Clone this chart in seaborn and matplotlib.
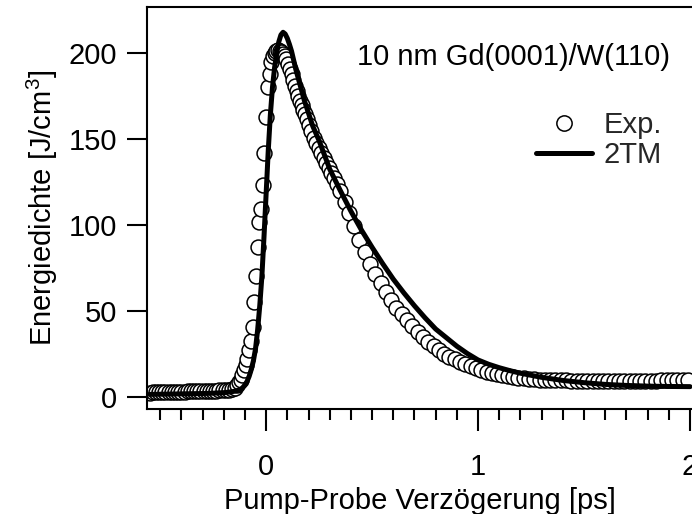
import matplotlib
matplotlib.use("Agg")
import matplotlib.pyplot as plt
from matplotlib.ticker import MultipleLocator, FixedLocator
from matplotlib.lines import Line2D
import numpy as np
import pandas as pd
import seaborn as sns

# ---------------- data ----------------
exp_t = [-0.550, -0.535, -0.520, -0.505, -0.490, -0.475, -0.460, -0.445, -0.430, -0.415,
         -0.400, -0.385, -0.370, -0.355, -0.340, -0.325, -0.310, -0.295, -0.280, -0.265,
         -0.250, -0.235, -0.220, -0.205, -0.190, -0.175, -0.160, -0.145,
         -0.136, -0.128, -0.120, -0.112, -0.104, -0.096, -0.088, -0.080, -0.072, -0.064,
         -0.056, -0.048, -0.040, -0.032, -0.024, -0.016, -0.008, 0.000, 0.008, 0.016,
         0.024, 0.032, 0.040, 0.048, 0.056, 0.064, 0.072, 0.080, 0.088, 0.096,
         0.104, 0.112, 0.120, 0.128, 0.136, 0.144, 0.152, 0.160, 0.168, 0.176,
         0.184, 0.192, 0.200, 0.212, 0.224, 0.236, 0.248, 0.260, 0.272, 0.284,
         0.296, 0.308, 0.320, 0.334, 0.350, 0.370, 0.390, 0.415, 0.440, 0.465,
         0.490, 0.515, 0.540, 0.565, 0.590, 0.615, 0.640, 0.665, 0.690, 0.715,
         0.740, 0.765, 0.790, 0.815, 0.840, 0.865, 0.890, 0.915, 0.940, 0.965,
         0.990, 1.015, 1.040, 1.065, 1.090, 1.115, 1.140, 1.165, 1.190, 1.215,
         1.240, 1.265, 1.290, 1.315, 1.340, 1.365, 1.390, 1.415, 1.440, 1.465,
         1.490, 1.515, 1.540, 1.565, 1.590, 1.615, 1.640, 1.665, 1.690, 1.715,
         1.740, 1.765, 1.790, 1.815, 1.840, 1.865, 1.890, 1.915, 1.940, 1.965, 1.990]
exp_e = [2.5, 2.6, 2.7, 2.6, 2.8, 2.8, 2.9, 2.9, 3.0, 3.0,
         3.1, 3.0, 3.2, 3.2, 3.3, 3.3, 3.4, 3.4, 3.5, 3.6,
         3.6, 3.7, 3.8, 3.9, 4.0, 4.2, 4.6, 5.4,
         7.0, 8.5, 10.0, 12.5, 15.5, 18.5, 22.0, 27.5, 32.5, 40.5,
         55.0, 70.5, 87.0, 102.0, 109.0, 123.0, 142.0, 163.0, 180.0, 187.5,
         195.0, 198.5, 200.0, 201.0, 201.5, 201.0, 200.5, 199.5, 198.5, 196.5,
         193.5, 190.5, 187.5, 184.5, 181.0, 178.0, 175.0, 172.0, 169.5, 167.0,
         164.5, 161.5, 158.0, 154.5, 150.5, 147.5, 145.0, 142.0, 139.0, 136.0,
         133.0, 130.0, 127.0, 124.0, 120.0, 113.5, 107.0, 99.5, 91.0, 84.0,
         77.5, 71.5, 66.0, 61.0, 56.5, 52.0, 48.0, 44.5, 41.0, 37.8,
         35.0, 32.2, 29.6, 27.2, 25.2, 23.5, 22.0, 20.5, 19.2, 18.0,
         16.8, 15.8, 14.8, 14.0, 13.2, 12.5, 12.0, 11.5, 11.1, 10.8,
         10.5, 10.3, 10.1, 10.0, 9.9, 9.8, 9.7, 9.6, 9.5, 9.4,
         9.4, 9.3, 9.3, 9.3, 9.3, 9.3, 9.3, 9.3, 9.3, 9.4,
         9.4, 9.4, 9.5, 9.5, 9.5, 9.6, 9.6, 9.7, 9.8, 9.8, 9.9]

fit_t = [-0.55, -0.50, -0.45, -0.40, -0.35, -0.30, -0.25, -0.20, -0.17, -0.15,
         -0.13, -0.12, -0.11, -0.10, -0.09, -0.08, -0.07, -0.06, -0.05, -0.04,
         -0.03, -0.02, -0.01, 0.00, 0.01, 0.02, 0.03, 0.04, 0.05, 0.06,
         0.07, 0.08, 0.09, 0.10, 0.11, 0.12, 0.14, 0.16, 0.18, 0.20,
         0.22, 0.25, 0.30, 0.35, 0.40, 0.45, 0.50, 0.55, 0.60, 0.65,
         0.70, 0.75, 0.80, 0.85, 0.90, 0.95, 1.00, 1.05, 1.10, 1.15,
         1.20, 1.30, 1.40, 1.50, 1.60, 1.70, 1.80, 1.90, 2.00]
fit_e = [1.5, 1.6, 1.7, 1.8, 1.9, 2.0, 2.2, 2.5, 2.9, 3.3,
         3.9, 4.5, 5.5, 7.0, 9.0, 12.0, 16.0, 21.0, 28.0, 39.0,
         53.0, 70.0, 93.0, 118.0, 143.0, 164.0, 180.0, 191.5, 200.0, 206.5,
         210.5, 212.0, 211.0, 208.5, 205.0, 201.0, 190.5, 181.5, 172.5, 165.0,
         157.5, 149.0, 132.5, 120.0, 108.0, 97.0, 87.0, 77.5, 68.5, 60.5,
         53.0, 46.0, 39.5, 34.5, 29.5, 25.2, 21.5, 19.0, 17.0, 15.3,
         13.8, 11.4, 9.6, 8.3, 7.3, 6.7, 6.3, 6.1, 6.0]

x_major = [0, 1, 2]
x_major_labels = ["0", "1", "2"]
y_major = [0, 50, 100, 150, 200]
y_major_labels = ["0", "50", "100", "150", "200"]

series_labels = ["Exp.", "2TM"]
annotation = "10 nm Gd(0001)/W(110)"
xlabel = "Pump-Probe Verzögerung [ps]"
ylabel = "Energiedichte [J/cm$^3$]"

df_exp = pd.DataFrame({"t": exp_t, "e": exp_e})
df_fit = pd.DataFrame({"t": fit_t, "e": fit_e})

# ---------------- style ----------------
sns.set_theme(style="ticks")
plt.rcParams["font.family"] = ["Liberation Sans", "DejaVu Sans"]
plt.rcParams["mathtext.fontset"] = "custom"
plt.rcParams["mathtext.rm"] = "Liberation Sans"
plt.rcParams["mathtext.it"] = "Liberation Sans"
plt.rcParams["mathtext.bf"] = "Liberation Sans:bold"
FS = 21

W, H = 692, 514
fig = plt.figure(figsize=(W / 100, H / 100), dpi=100)
left_px, right_px, top_px, bot_px = 147, 692, 7, 409
ax = fig.add_axes([left_px / W, 1 - bot_px / H, (right_px - left_px) / W, (bot_px - top_px) / H])

sns.scatterplot(data=df_exp, x="t", y="e", ax=ax, marker="o", s=115,
                facecolors="white", edgecolor="black", linewidth=1.1, zorder=2,
                legend=False)
sns.lineplot(data=df_fit, x="t", y="e", ax=ax, color="black", linewidth=3.6,
             estimator=None, sort=True, zorder=3, legend=False)

ax.set_xlim(-0.562, 2.0 + 2 / 212)
ax.set_ylim(-7.0, 226.7)

ax.xaxis.set_major_locator(FixedLocator(x_major))
ax.set_xticklabels(x_major_labels)
ax.xaxis.set_minor_locator(MultipleLocator(0.1))
ax.yaxis.set_major_locator(FixedLocator(y_major))
ax.set_yticklabels(y_major_labels)

for s in ["left", "bottom", "top"]:
    ax.spines[s].set_linewidth(1.5)
    ax.spines[s].set_color("black")
ax.spines["right"].set_visible(False)

ax.tick_params(axis="x", which="major", direction="out", length=16, width=1.5,
               pad=16, labelsize=FS, colors="black")
ax.tick_params(axis="x", which="minor", direction="out", length=8, width=1.5,
               colors="black")
ax.tick_params(axis="y", which="major", direction="out", length=14.5, width=1.5,
               pad=7, labelsize=FS, colors="black")

ax.set_xlabel(xlabel, fontsize=FS, labelpad=4, color="black")
ax.set_ylabel(ylabel, fontsize=FS, labelpad=6, color="black")

ax.text(1.905, 193, annotation, fontsize=FS, ha="right", va="baseline", color="black")

handles = [
    Line2D([], [], marker="o", linestyle="none", markerfacecolor="white",
           markeredgecolor="black", markersize=11, markeredgewidth=1.1),
    Line2D([], [], color="black", linewidth=3.6),
]
ax.legend(handles, series_labels, loc="upper right", bbox_to_anchor=(0.945, 0.742),
          frameon=False, fontsize=FS, handlelength=1.9, handletextpad=0.41,
          borderpad=0, borderaxespad=0, labelspacing=0.08)

ax.set_facecolor("white")
fig.patch.set_facecolor("white")
fig.savefig("out.png", dpi=100)
